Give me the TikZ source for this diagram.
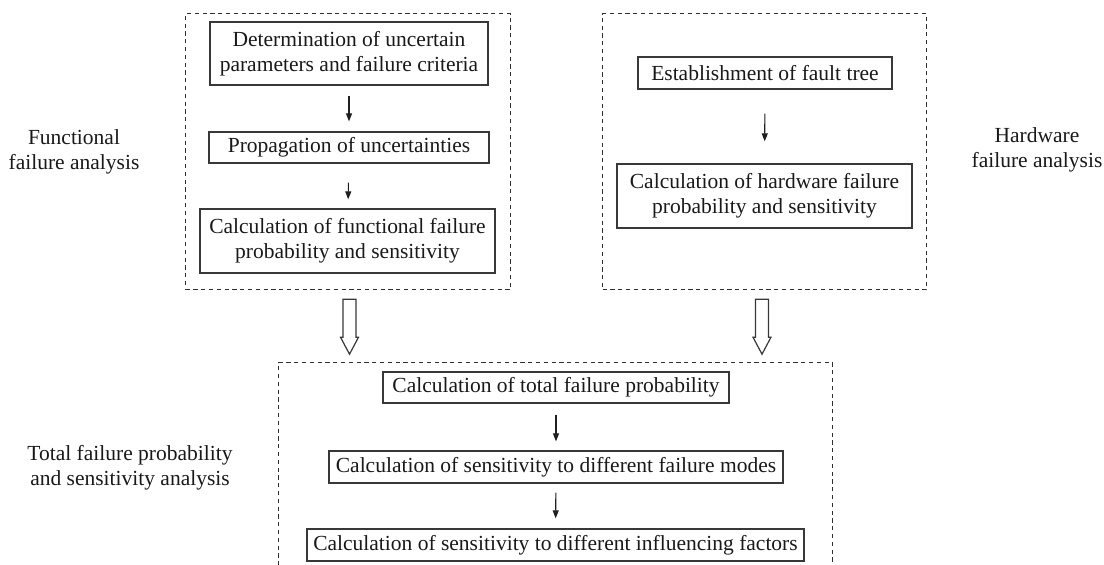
\documentclass[tikz,border=0pt]{standalone}
\usepackage{fontspec}
\setmainfont{Liberation Serif}
\usetikzlibrary{arrows.meta,calc}
\begin{document}
\begin{tikzpicture}[x=1pt,y=-1pt,
  every node/.style={font=\fontsize{21.5}{25}\selectfont, text=black!90},
  stepbox/.style={draw=black!78, line width=1.3pt, inner sep=0pt, align=center, anchor=center},
  groupbox/.style={draw=black!82, line width=1.2pt, dash pattern=on 4.2pt off 3.6pt, inner sep=0pt, anchor=north west},
  arr/.style={draw=black!88, line width=1.1pt, -{Triangle[length=8pt,width=6pt]}},
  hollow/.style={draw=black!78, line width=1.2pt, fill=white},
  lbl/.style={align=center, anchor=center}
]
\useasboundingbox (0,0) rectangle (1104,565);
\clip (0,0) rectangle (1104,565);
% group boxes
\node[groupbox, minimum width=325, minimum height=276] (F) at (185,13) {};
\node[groupbox, minimum width=324, minimum height=276] (H) at (602,13) {};
\node[groupbox, minimum width=554, minimum height=230] (T) at (278,362) {};
% labels
\node[lbl] (LF) at (74,152) {Functional\\failure analysis};
\node[lbl] (LH) at (1037,150) {Hardware\\failure analysis};
\node[lbl] (LT) at (130,468) {Total failure probability\\and sensitivity analysis};
% functional column
\node[stepbox, minimum width=278, minimum height=63] (b1) at (349,53.5) {Determination of uncertain\\parameters and failure criteria};
\node[stepbox, minimum width=280, minimum height=31] (b2) at (349,147.5) {Propagation of uncertainties};
\node[stepbox, minimum width=295, minimum height=64] (b3) at (347.5,241) {Calculation of functional failure\\probability and sensitivity};
\draw[arr, shorten <=10pt, shorten >=10pt] (b1) -- (b2);
\draw[arr, shorten <=19pt, shorten >=9pt] (b2) -- (b3);
% hardware column
\node[stepbox, minimum width=254, minimum height=32] (h1) at (765,73) {Establishment of fault tree};
\node[stepbox, minimum width=295, minimum height=64] (h2) at (764.5,196) {Calculation of hardware failure\\probability and sensitivity};
\draw[arr, shorten <=24pt, shorten >=22pt] (h1) -- (h2);
% total column
\node[stepbox, minimum width=346, minimum height=31] (t1) at (556,387.5) {Calculation of total failure probability};
\node[stepbox, minimum width=454, minimum height=32] (t2) at (556,467) {Calculation of sensitivity to different failure modes};
\node[stepbox, minimum width=497, minimum height=32] (t3) at (555.5,545) {Calculation of sensitivity to different influencing factors};
\draw[arr, shorten <=11pt, shorten >=9pt] (t1) -- (t2);
\draw[arr, shorten <=9pt, shorten >=10pt] (t2) -- (t3);
% hollow arrows
\coordinate (fa) at ($(F.south west)+(164.5,9)$);
\coordinate (ha) at ($(H.south west)+(160,9)$);
\foreach \c in {fa,ha}{
  \draw[hollow] (\c) ++(-6.5,0) -- ++(0,38) -- ++(-2.5,0) -- ++(9,17) -- ++(9,-17) -- ++(-2.5,0) -- ++(0,-38) -- cycle;
}
\end{tikzpicture}
\end{document}
